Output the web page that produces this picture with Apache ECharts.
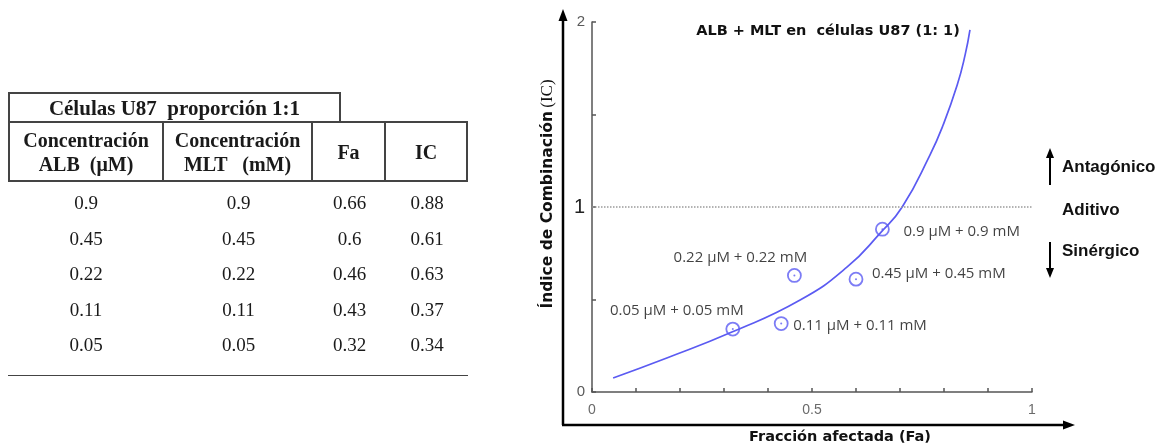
<!DOCTYPE html>
<html>
<head>
<meta charset="utf-8">
<script src="https://cdn.jsdelivr.net/npm/echarts@6/dist/echarts.min.js"></script>
<style>
html, body { margin: 0; padding: 0; background: #fff; }
#wrap { position: relative; width: 1161px; height: 446px; overflow: hidden; }
#chart { position: absolute; left: 0; top: 0; width: 1161px; height: 446px; }
#tabla { position: absolute; left: 0; top: 0; width: 480px; height: 446px; z-index: 2;
  font-family: "Liberation Serif", "Times New Roman", serif; color: #1a1a1a; }
#tabla div { position: absolute; box-sizing: border-box; text-align: center; }
.th { font-weight: bold; font-size: 20px; line-height: 24px; border-top: 2px solid #444;
  border-bottom: 2px solid #444; border-right: 2px solid #444; display: flex;
  align-items: center; justify-content: center; }
.td { font-size: 19px; height: 36px; line-height: 36px; }
</style>
</head>
<body>
<div id="wrap">
  <div id="chart"></div>
  <div id="tabla"></div>
</div>
<script>
// tabla: células U87, proporción 1:1
var albConc = [0.9, 0.45, 0.22, 0.11, 0.05];
var mltConc = [0.9, 0.45, 0.22, 0.11, 0.05];
var fa = [0.66, 0.6, 0.46, 0.43, 0.32];
var ic = [0.88, 0.61, 0.63, 0.37, 0.34];
var headers = ['Concentración<br>ALB&nbsp; (μM)', 'Concentración<br>MLT &nbsp; (mM)', 'Fa', 'IC'];

// curva IC vs Fa
var curveFa = [0.048, 0.17, 0.318, 0.473, 0.58, 0.655, 0.705, 0.768, 0.798, 0.83, 0.848, 0.859];
var curveIc = [0.076, 0.184, 0.324, 0.497, 0.676, 0.859, 1.0, 1.281, 1.443, 1.659, 1.822, 1.957];

var xTickLabels = [0, 0.5, 1];
var yTickLabels = [0, 1, 2];

// ---- tabla en html
var tabla = document.getElementById('tabla');
var colX = [8, 164, 313, 386, 468];

var cap = document.createElement('div');
cap.style.cssText = 'left:8px;top:92px;width:333px;height:31px;border:2px solid #444;border-bottom:none;' +
  'font-weight:bold;font-size:21px;line-height:28px;';
cap.innerHTML = 'Células U87&nbsp; proporción 1:1';
tabla.appendChild(cap);

headers.forEach(function (h, j) {
  var d = document.createElement('div');
  d.className = 'th';
  d.style.left = colX[j] + 'px';
  d.style.top = '121px';
  d.style.width = (colX[j + 1] - colX[j]) + 'px';
  d.style.height = '61px';
  if (j === 0) d.style.borderLeft = '2px solid #444';
  d.innerHTML = '<span>' + h + '</span>';
  tabla.appendChild(d);
});

var cols = [albConc, mltConc, fa, ic];
for (var i = 0; i < fa.length; i++) {
  cols.forEach(function (col, j) {
    var d = document.createElement('div');
    d.className = 'td';
    d.style.left = colX[j] + 'px';
    d.style.width = (colX[j + 1] - colX[j]) + 'px';
    d.style.top = (185 + i * 35.5) + 'px';
    d.textContent = col[i];
    tabla.appendChild(d);
  });
}
var fin = document.createElement('div');
fin.style.cssText = 'left:8px;top:375px;width:460px;height:0;border-top:1.5px solid #444;';
tabla.appendChild(fin);

// ---- grafico
var myChart = echarts.init(document.getElementById('chart'));

var labelPlace = [
  { align: 'left', offset: [21, 3] },
  { align: 'left', offset: [16, -5] },
  { align: 'center', offset: [-54, -18] },
  { align: 'left', offset: [12, 2] },
  { align: 'center', offset: [-56, -18] }
];

var puntos = fa.map(function (f, i) {
  return {
    value: [f, ic[i]],
    label: {
      show: true,
      position: 'inside',
      align: labelPlace[i].align,
      offset: labelPlace[i].offset,
      color: '#111',
      fontFamily: 'Open Sans',
      fontSize: 15,
      formatter: albConc[i] + ' μM + ' + mltConc[i] + ' mM'
    }
  };
});

var curva = curveFa.map(function (x, i) { return [x, curveIc[i]]; });

var azul = '#5b5bf2';

function near(v, list) {
  return list.some(function (t) { return Math.abs(v - t) < 1e-6; });
}

option = {
  animation: false,
  backgroundColor: '#fff',
  title: {
    text: 'ALB + MLT en  células U87 (1: 1)',
    left: 823,
    top: 19,
    textAlign: 'center',
    textStyle: { fontFamily: 'DejaVu Sans', fontWeight: 'bold', fontSize: 14.5, color: '#111' }
  },
  grid: { left: 592, right: 129, top: 22, bottom: 54 },
  xAxis: {
    type: 'value',
    min: 0,
    max: 1,
    interval: 0.1,
    splitLine: { show: false },
    axisLine: { lineStyle: { color: '#555', width: 1.5 } },
    axisTick: { inside: true, length: 4, lineStyle: { color: '#555', width: 1.5 } },
    axisLabel: {
      margin: 11,
      color: '#6a6a6a',
      fontFamily: 'Liberation Sans',
      fontSize: 14,
      showMinLabel: true,
      showMaxLabel: true,
      formatter: function (v) { return near(v, xTickLabels) ? String(Math.round(v * 10) / 10) : ''; }
    }
  },
  yAxis: {
    type: 'value',
    min: 0,
    max: 2,
    interval: 0.5,
    splitLine: { show: false },
    axisLine: { lineStyle: { color: '#555', width: 1.5 } },
    axisTick: { inside: true, length: 4, lineStyle: { color: '#555', width: 1.5 } },
    axisLabel: {
      margin: 7,
      color: '#5a5a5a',
      fontFamily: 'Liberation Sans',
      fontSize: 15,
      showMinLabel: true,
      showMaxLabel: true,
      formatter: function (v) {
        if (!near(v, yTickLabels)) return '';
        return Math.round(v) === 1 ? '{big|1}' : String(Math.round(v));
      },
      rich: { big: { fontSize: 20, color: '#222', fontFamily: 'Liberation Sans' } }
    }
  },
  series: [
    {
      type: 'line',
      data: curva,
      smooth: 0.5,
      showSymbol: false,
      silent: true,
      z: 2,
      lineStyle: { color: azul, width: 1.7 },
      markLine: {
        silent: true,
        symbol: 'none',
        label: { show: false },
        lineStyle: { type: 'dotted', color: '#9a9a9a', width: 1.5 },
        data: [{ yAxis: 1 }]
      }
    },
    {
      type: 'scatter',
      data: puntos,
      symbol: 'circle',
      symbolSize: 13,
      z: 3,
      itemStyle: { color: 'rgba(0,0,0,0)', borderColor: azul, borderWidth: 1.8 }
    },
    {
      type: 'scatter',
      data: fa.map(function (f, i) { return [f, ic[i]]; }),
      symbolSize: 2,
      z: 4,
      itemStyle: { color: azul }
    }
  ],
  graphic: [
    { type: 'line', shape: { x1: 563, y1: 425, x2: 563, y2: 18 }, style: { stroke: '#000', lineWidth: 2.5 } },
    { type: 'polygon', shape: { points: [[563, 9], [558.5, 21], [567.5, 21]] }, style: { fill: '#000' } },
    { type: 'line', shape: { x1: 562, y1: 425, x2: 1066, y2: 425 }, style: { stroke: '#000', lineWidth: 2.5 } },
    { type: 'polygon', shape: { points: [[1075, 425], [1063, 420.5], [1063, 429.5]] }, style: { fill: '#000' } },
    { type: 'line', shape: { x1: 1050, y1: 185, x2: 1050, y2: 156 }, style: { stroke: '#000', lineWidth: 2 } },
    { type: 'polygon', shape: { points: [[1050, 148], [1046, 158], [1054, 158]] }, style: { fill: '#000' } },
    { type: 'line', shape: { x1: 1050, y1: 242, x2: 1050, y2: 270 }, style: { stroke: '#000', lineWidth: 2 } },
    { type: 'polygon', shape: { points: [[1050, 278], [1046, 268], [1054, 268]] }, style: { fill: '#000' } },
    {
      type: 'text', x: 1062, y: 167,
      style: { text: 'Antagónico', align: 'left', verticalAlign: 'middle', fill: '#111',
        font: 'bold 17px "Liberation Sans", Arial, sans-serif' }
    },
    {
      type: 'text', x: 1062, y: 210,
      style: { text: 'Aditivo', align: 'left', verticalAlign: 'middle', fill: '#111',
        font: 'bold 17px "Liberation Sans", Arial, sans-serif' }
    },
    {
      type: 'text', x: 1062, y: 251,
      style: { text: 'Sinérgico', align: 'left', verticalAlign: 'middle', fill: '#111',
        font: 'bold 17px "Liberation Sans", Arial, sans-serif' }
    },
    {
      type: 'text', x: 840, y: 437,
      style: { text: 'Fracción afectada (Fa)', align: 'center', verticalAlign: 'middle', fill: '#111',
        font: 'bold 14.5px "DejaVu Sans", sans-serif' }
    },
    {
      type: 'text', x: 548, y: 194, rotation: Math.PI / 2,
      style: {
        text: '{b|Índice de Combinación} {s|(IC)}',
        align: 'center', verticalAlign: 'middle', fill: '#111',
        rich: {
          b: { fontFamily: 'DejaVu Sans', fontWeight: 'bold', fontSize: 15.5, fill: '#111' },
          s: { fontFamily: 'Liberation Serif', fontSize: 17, fill: '#111' }
        }
      }
    }
  ]
};

myChart.setOption(option);

window.addEventListener('resize', function () {
  myChart.resize();
});
</script>
</body>
</html>
